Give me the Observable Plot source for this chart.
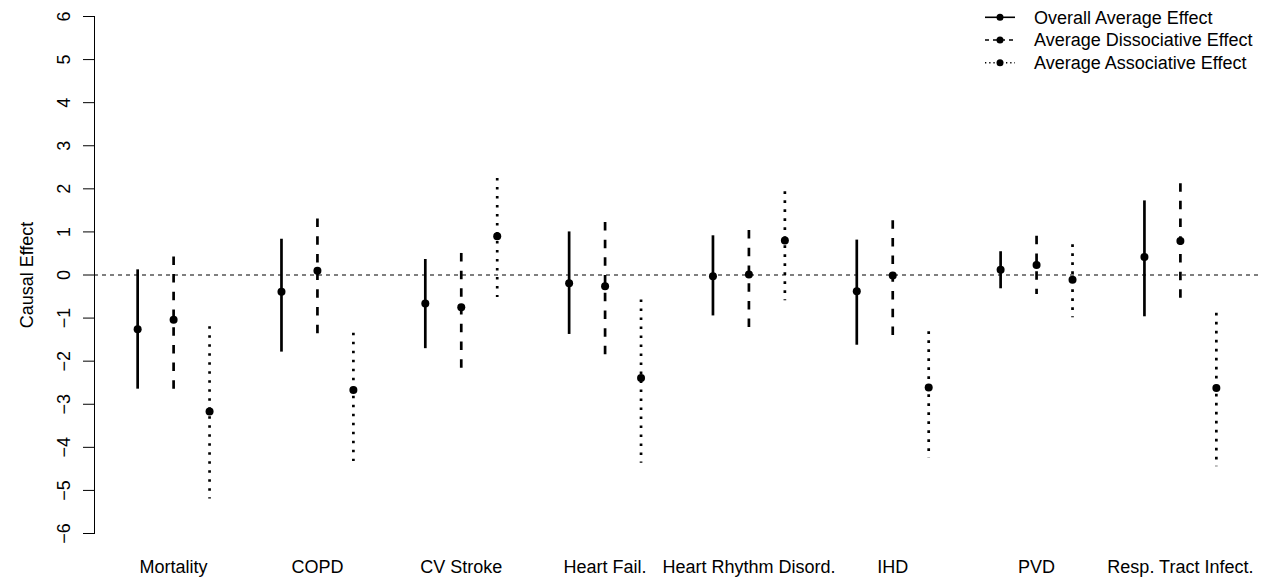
<!DOCTYPE html>
<html><head><meta charset="utf-8">
<script src="https://cdn.jsdelivr.net/npm/d3@7"></script>
<script src="https://cdn.jsdelivr.net/npm/@observablehq/plot@0.6"></script>
<style>
body{margin:0;background:#fff;font-family:"Liberation Sans",Arial,Helvetica,sans-serif;}
#wrap{position:relative;width:1269px;height:581px;}
#legend{position:absolute;left:980px;top:0;}
</style></head><body>
<div id="wrap"></div>
<script>
const categories = ["Mortality","COPD","CV Stroke","Heart Fail.","Heart Rhythm Disord.","IHD","PVD","Resp. Tract Infect."];
const seriesNames = ["Overall Average Effect","Average Dissociative Effect","Average Associative Effect"];

const overallEst = [-1.26, -0.39, -0.66, -0.19, -0.03, -0.38, 0.12, 0.42];
const overallLo  = [-2.65, -1.79, -1.71, -1.38, -0.95, -1.63, -0.32, -0.97];
const overallHi  = [ 0.12,  0.83,  0.36,  1.00,  0.91,  0.81,  0.54, 1.72];

const dissocEst = [-1.04, 0.10, -0.75, -0.26, 0.01, -0.01, 0.23, 0.79];
const dissocLo  = [-2.68, -1.39, -2.20, -1.91, -1.25, -1.44, -0.45, -0.59];
const dissocHi  = [ 0.42,  1.30,  0.50,  1.22,  1.03,  1.26,  0.90, 2.12];

const assocEst = [-3.17, -2.67, 0.90, -2.39, 0.80, -2.61, -0.11, -2.62];
const assocLo  = [-5.20, -4.33, -0.52, -4.37, -0.60, -4.25, -0.99, -4.45];
const assocHi  = [-1.20, -1.35,  2.24, -0.58,  1.93, -1.32,  0.70, -0.89];

const yTicks = [-6,-5,-4,-3,-2,-1,0,1,2,3,4,5,6];

const series = [
  {est: overallEst, lo: overallLo, hi: overallHi},
  {est: dissocEst, lo: dissocLo, hi: dissocHi},
  {est: assocEst, lo: assocLo, hi: assocHi}
];
const dashes = [null, "8.5,9.2", "2.6,6.4"];
const legendDashes = [null, "4,4", "1.3,2.9"];

const rows = [];
categories.forEach((c, i) => {
  series.forEach((s, j) => {
    rows.push({cat: c, s: j, x: 4 * i + j + 1, est: s.est[i], lo: s.lo[i], hi: s.hi[i]});
  });
});

const fmt = d => d < 0 ? "\u2212" + Math.abs(d) : String(d);
const FS = 18;

const chart = Plot.plot({
  width: 1269, height: 581,
  marginLeft: 94, marginRight: 10, marginTop: 16, marginBottom: 48,
  x: {domain: [-0.2, 32.2], axis: null},
  y: {domain: [-6, 6], axis: null},
  style: {fontFamily: '"Liberation Sans", Arial, Helvetica, sans-serif', color: "#000", background: "#fff"},
  marks: [
    Plot.ruleY([0], {stroke: "#000", strokeWidth: 1.1, strokeDasharray: "4,4"}),
    ...[0,1,2].map(j => Plot.ruleX(rows.filter(r => r.s === j), {
      x: "x", y1: "hi", y2: "lo", stroke: "#000", strokeWidth: 2.7,
      strokeDasharray: dashes[j] || undefined
    })),
    Plot.dot(rows, {x: "x", y: "est", r: 4, fill: "#000", stroke: "none"}),
    Plot.frame({anchor: "left", stroke: "#000"}),
    Plot.axisY({ticks: yTicks, tickSize: 11, tickFormat: () => "", stroke: "#000"}),
    Plot.text(yTicks, {y: d => d, text: fmt, frameAnchor: "left", dx: -30.5, rotate: -90, fontSize: FS, lineAnchor: "middle", textAnchor: "middle"}),
    Plot.text(categories, {x: (d, i) => 4 * i + 2, text: d => d, frameAnchor: "bottom", dy: 33.3, fontSize: FS, lineAnchor: "middle", textAnchor: "middle"}),
    Plot.text(["Causal Effect"], {frameAnchor: "left", dx: -67, rotate: -90, fontSize: FS, lineAnchor: "middle", textAnchor: "middle"})
  ]
});
const wrap = document.getElementById("wrap");
wrap.appendChild(chart);

// Legend (top right, no box)
const ns = "http://www.w3.org/2000/svg";
const leg = document.createElementNS(ns, "svg");
leg.setAttribute("id", "legend");
leg.setAttribute("width", 289);
leg.setAttribute("height", 78);
const rowY = [17.3, 40, 62.7];
seriesNames.forEach((name, j) => {
  const y = rowY[j];
  const line = document.createElementNS(ns, "line");
  line.setAttribute("x1", 5); line.setAttribute("x2", 35);
  line.setAttribute("y1", y); line.setAttribute("y2", y);
  line.setAttribute("stroke", "#000"); line.setAttribute("stroke-width", 1.6);
  if (legendDashes[j]) line.setAttribute("stroke-dasharray", legendDashes[j]);
  leg.appendChild(line);
  const c = document.createElementNS(ns, "circle");
  c.setAttribute("cx", 20); c.setAttribute("cy", y); c.setAttribute("r", 3.5); c.setAttribute("fill", "#000");
  leg.appendChild(c);
  const t = document.createElementNS(ns, "text");
  t.setAttribute("x", 54); t.setAttribute("y", y);
  t.setAttribute("dy", "0.35em");
  t.setAttribute("font-size", FS);
  t.setAttribute("font-family", '"Liberation Sans", Arial, Helvetica, sans-serif');
  t.setAttribute("fill", "#000");
  t.textContent = name;
  leg.appendChild(t);
});
wrap.appendChild(leg);
</script>
</body></html>
